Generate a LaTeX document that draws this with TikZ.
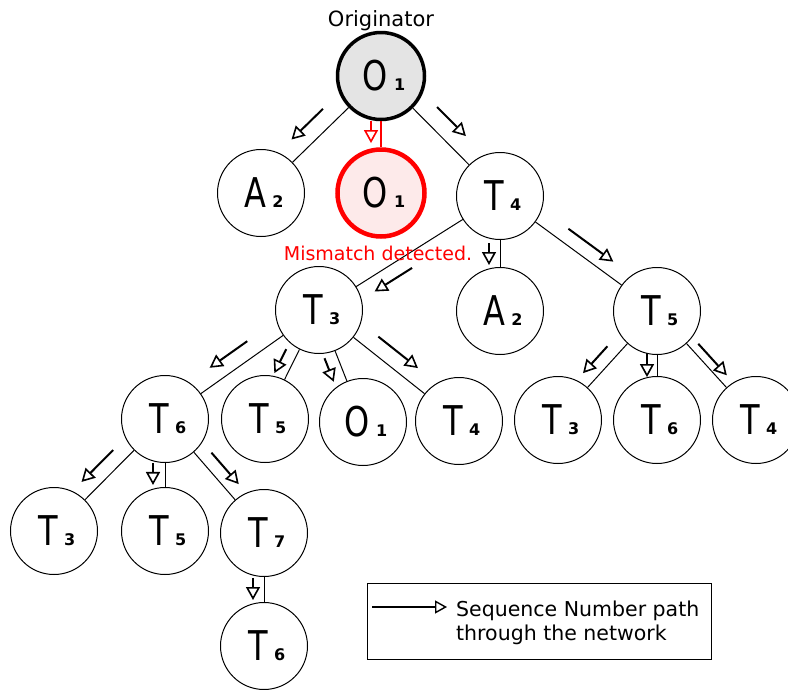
\documentclass[tikz,border=0pt]{standalone}
\usepackage{fontspec}
\setmainfont{DejaVu Sans}
\newfontfamily\biglabfont[FakeStretch=0.78]{DejaVu Sans}
\usetikzlibrary{arrows.meta,calc}
\newcommand\nlab[2]{\hspace*{6pt}{\biglabfont\fontsize{41}{41}\selectfont #1}\hspace{6pt}{\bfseries\fontsize{16}{16}\selectfont #2}}
\definecolor{topgray}{RGB}{228,228,228}
\definecolor{pinkfill}{RGB}{253,234,234}
\tikzset{
  netnode/.style={circle, draw=black, line width=1pt, minimum size=87pt, inner sep=0pt, fill=white},
  orignode/.style={netnode, line width=3.5pt, fill=topgray},
  badnode/.style={netnode, draw=red, line width=4.5pt, fill=pinkfill},
  edge/.style={line width=1pt},
  badedge/.style={draw=red, line width=2pt},
  seqarrow/.style={line width=2pt, -{Triangle[open, length=13pt, width=14pt, line width=1.6pt]}},
  badarrow/.style={seqarrow, draw=red, line width=1.4pt},
  smalltext/.style={font=\fontsize{21}{24}\selectfont, inner sep=0pt},
}
\newcommand\seq[6][seqarrow]{\draw[#1] ($(#2)!#4!(#3)!#6pt!90:(#3)$) -- ($(#2)!#5!(#3)!#6pt!90:(#3)$);}
\begin{document}
\begin{tikzpicture}[x=1pt,y=-1pt]
\useasboundingbox (0,0) rectangle (788,689);
% nodes
\node[orignode] (o1) at (381,76) {\nlab{O}{1}};
\node[netnode] (a2a) at (261,193) {\nlab{A}{2}};
\node[badnode] (o1r) at (381,193) {\nlab{O}{1}};
\node[netnode] (t4a) at (500,196) {\nlab{T}{4}};
\node[netnode] (t3a) at (319,310) {\nlab{T}{3}};
\node[netnode] (a2b) at (500,311) {\nlab{A}{2}};
\node[netnode] (t5a) at (657,311) {\nlab{T}{5}};
\node[netnode] (t6a) at (165,419) {\nlab{T}{6}};
\node[netnode] (t5b) at (265,419) {\nlab{T}{5}};
\node[netnode] (o1b) at (363,422) {\nlab{O}{1}};
\node[netnode] (t4b) at (459,421) {\nlab{T}{4}};
\node[netnode] (t3b) at (558,420) {\nlab{T}{3}};
\node[netnode] (t6b) at (657,420) {\nlab{T}{6}};
\node[netnode] (t4c) at (756,420) {\nlab{T}{4}};
\node[netnode] (t3c) at (54,531) {\nlab{T}{3}};
\node[netnode] (t5c) at (165,531) {\nlab{T}{5}};
\node[netnode] (t7a) at (264,533) {\nlab{T}{7}};
\node[netnode] (t6c) at (264,646) {\nlab{T}{6}};
% edges
\draw[edge] (o1) -- (a2a);
\draw[badedge] (o1) -- (o1r);
\draw[edge] (o1) -- (t4a);
\draw[edge] (t4a) -- (t3a);
\draw[edge] (t4a) -- (a2b);
\draw[edge] (t4a) -- (t5a);
\draw[edge] (t3a) -- (t6a);
\draw[edge] (t3a) -- (t5b);
\draw[edge] (t3a) -- (o1b);
\draw[edge] (t3a) -- (t4b);
\draw[edge] (t5a) -- (t3b);
\draw[edge] (t5a) -- (t6b);
\draw[edge] (t5a) -- (t4c);
\draw[edge] (t6a) -- (t3c);
\draw[edge] (t6a) -- (t5c);
\draw[edge] (t6a) -- (t7a);
\draw[edge] (t7a) -- (t6c);
% sequence number arrows
\seq{o1}{a2a}{0.385}{0.647}{-17}
\seq[badarrow]{o1}{o1r}{0.385}{0.573}{-10}
\seq{o1}{t4a}{0.364}{0.606}{18}
\seq{t4a}{t3a}{0.527}{0.734}{14}
\seq{t4a}{a2b}{0.409}{0.6}{-11}
\seq{t4a}{t5a}{0.383}{0.669}{14}
\seq{t3a}{t6a}{0.406}{0.65}{-16}
\seq{t3a}{t5b}{0.408}{0.628}{-12}
\seq{t3a}{o1b}{0.39}{0.6}{-12.5}
\seq{t3a}{t4b}{0.353}{0.636}{16}
\seq{t5a}{t3b}{0.404}{0.65}{-13}
\seq{t5a}{t6b}{0.385}{0.606}{-10}
\seq{t5a}{t4c}{0.353}{0.642}{8.5}
\seq{t6a}{t3c}{0.371}{0.656}{-15}
\seq{t6a}{t5c}{0.393}{0.589}{-12}
\seq{t6a}{t7a}{0.37}{0.646}{13}
\seq{t7a}{t6c}{0.398}{0.593}{-11}
% texts
\node[smalltext, anchor=base] (origlabel) at (381,26) {Originator};
\node[smalltext, anchor=base, text=red, font=\fontsize{19}{22}\selectfont] (mismatch) at (378,260) {Mismatch detected.};
% legend
\node[draw, line width=1pt, minimum width=344pt, minimum height=76pt, inner sep=0pt] (legend) at (539,621) {};
\coordinate (legA) at (372,607);
\coordinate (legB) at (447,607);
\draw[line width=1.4pt, -{Triangle[open, length=12pt, width=13pt, line width=1.4pt]}] (legA) -- (legB);
\node[anchor=west, align=left, inner sep=0pt, font=\fontsize{20.5}{24}\selectfont] (legtext) at (456,623) {Sequence Number path\\through the network};
\end{tikzpicture}
\end{document}
